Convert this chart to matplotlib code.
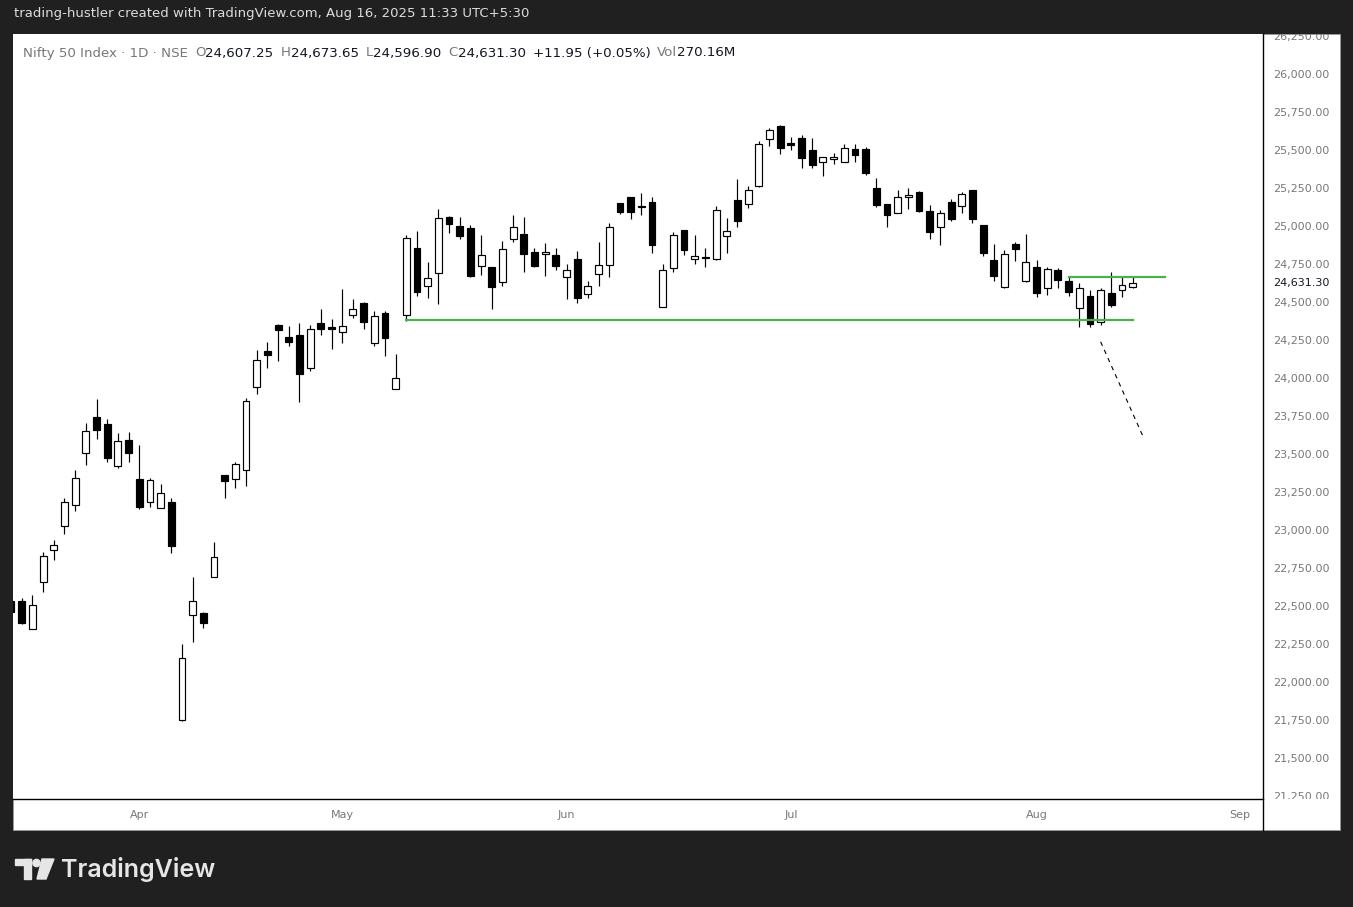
import numpy as np
import pandas as pd
import matplotlib
matplotlib.use('Agg')
import matplotlib.pyplot as plt
from matplotlib.patches import Rectangle, Polygon, Circle

W, H = 1353, 907

# NSE trading calendar (holidays skipped)
holidays = ['2025-03-14', '2025-03-31', '2025-04-10', '2025-04-14', '2025-04-18',
            '2025-05-01', '2025-08-15', '2025-08-27']
days = pd.bdate_range('2025-03-12', '2025-09-05')
days = days[~days.isin(pd.to_datetime(holidays))]

# Nifty 50 daily OHLC, 12 Mar .. 14 Aug 2025
opens = [22539, 22539, 22353, 22663, 22873, 23035, 23169, 23511, 23750, 23704, 23430, 23597,
         23342, 23189, 23149, 23189, 21754, 22445, 22458, 22695, 23366, 23340, 23399, 23945,
         24184, 24355, 24276, 24289, 24070, 24368, 24342, 24307, 24419, 24498, 24235, 24432,
         23932, 24419, 24860, 24610, 24695, 25064, 25004, 24991, 24741, 24735, 24636, 24919,
         24954, 24833, 24820, 24814, 24669, 24788, 24557, 24689, 24748, 25156, 25195, 25136,
         25162, 24472, 24728, 24978, 24788, 24802, 24788, 24939, 25175, 25149, 25268, 25577,
         25662, 25551, 25583, 25504, 25426, 25445, 25426, 25512, 25511, 25255, 25151, 25090,
         25195, 25228, 25103, 24998, 25162, 25136, 25241, 25011, 24781, 24607, 24886, 24643,
         24735, 24597, 24715, 24643, 24465, 24544, 24373, 24564, 24584, 24607.25]
highs = [22577, 22557, 22579, 22862, 22941, 23217, 23399, 23710, 23868, 23737, 23645, 23651,
         23566, 23347, 23309, 23217, 22256, 22697, 22465, 22927, 23366, 23454, 23873, 24191,
         24243, 24362, 24349, 24368, 24355, 24460, 24395, 24592, 24524, 24505, 24445, 24445,
         24164, 24947, 24974, 24769, 25118, 25072, 25066, 25012, 24947, 24738, 24908, 25079,
         25066, 24860, 24893, 24860, 24755, 24840, 24643, 24899, 25024, 25160, 25199, 25222,
         25195, 24755, 24965, 24982, 24946, 24860, 25136, 25057, 25314, 25267, 25564, 25649,
         25671, 25590, 25603, 25583, 25462, 25485, 25544, 25544, 25525, 25322, 25151, 25243,
         25256, 25235, 25143, 25110, 25182, 25228, 25243, 25011, 24886, 24847, 24899, 24952,
         24781, 24735, 24728, 24669, 24630, 24584, 24597, 24702, 24669, 24673.65]
lows = [22380, 22386, 22353, 22601, 22809, 22978, 23133, 23436, 23607, 23456, 23416, 23456,
        23143, 23160, 23149, 22857, 21748, 22272, 22360, 22695, 23215, 23281, 23298, 23903,
        24074, 24120, 24219, 23851, 24054, 24291, 24199, 24239, 24403, 24331, 24219, 24153,
        23932, 24384, 24548, 24535, 24495, 24958, 24919, 24673, 24686, 24463, 24614, 24903,
        24706, 24739, 24679, 24719, 24527, 24502, 24535, 24614, 24673, 25084, 25054, 25081,
        24831, 24472, 24704, 24818, 24755, 24735, 24784, 24827, 25002, 25127, 25261, 25531,
        25478, 25504, 25386, 25386, 25333, 25412, 25426, 25426, 25340, 25133, 25002, 25090,
        25120, 25097, 24923, 24883, 25037, 25090, 25024, 24811, 24647, 24600, 24774, 24638,
        24537, 24554, 24597, 24544, 24344, 24340, 24353, 24472, 24537, 24596.90]
closes = [22469, 22397, 22511, 22835, 22906, 23189, 23346, 23656, 23666, 23482, 23590, 23515,
          23160, 23333, 23248, 22903, 22162, 22537, 22397, 22827, 23327, 23439, 23853, 24123,
          24160, 24324, 24245, 24035, 24327, 24331, 24331, 24347, 24458, 24377, 24413, 24272,
          24004, 24926, 24574, 24663, 25057, 25018, 24943, 24679, 24814, 24607, 24853, 24998,
          24825, 24745, 24833, 24745, 24715, 24535, 24614, 24748, 24998, 25101, 25101, 25130,
          24884, 24715, 24946, 24851, 24807, 24794, 25110, 24972, 25041, 25241, 25544, 25636,
          25518, 25538, 25452, 25406, 25458, 25458, 25518, 25472, 25355, 25147, 25081, 25195,
          25208, 25103, 24965, 25090, 25054, 25215, 25054, 24831, 24679, 24820, 24853, 24768,
          24564, 24722, 24649, 24570, 24597, 24360, 24584, 24485, 24616, 24631.30]

# drawings on the chart: (bar index, price)
support_x, support_y = [37, 105], [24390, 24390]
resist_x, resist_y = [99, 108], [24671, 24671]
dash_x, dash_y = [102, 105.95], [24245, 23625]

price_ticks = np.arange(21250, 26251, 250)
months = ['Apr', 'May', 'Jun', 'Jul', 'Aug', 'Sep']
month_num = [4, 5, 6, 7, 8, 9]

header = 'trading-hustler created with TradingView.com, Aug 16, 2025 11:33 UTC+5:30'
legend_parts = [('Nifty 50 Index · 1D · NSE', 'g'), ('O', 'g'), ('24,607.25', 'k'),
                ('H', 'g'), ('24,673.65', 'k'), ('L', 'g'), ('24,596.90', 'k'),
                ('C', 'g'), ('24,631.30', 'k'), ('+11.95 (+0.05%)', 'k'),
                ('Vol', 'g'), ('270.16M', 'k')]

BG = '#202020'
GRAY = '#787878'
DARK = '#131722'
FONT = ['DejaVu Sans']


def px(x0, y0, x1, y1):
    return [x0 / W, 1 - y1 / H, (x1 - x0) / W, (y1 - y0) / H]


fig = plt.figure(figsize=(W / 100, H / 100), dpi=100, facecolor=BG)
fig.patches.append(Rectangle((13 / W, 1 - 830 / H), 1327 / W, 796 / H,
                             transform=fig.transFigure, facecolor='white',
                             edgecolor='#9a9a9a', lw=0.6, zorder=-5))

x = np.arange(len(opens))
o = np.array(opens, float)
hi = np.array(highs, float)
lo = np.array(lows, float)
c = np.array(closes, float)
up = c >= o

ax = fig.add_axes(px(13, 34, 1263, 799))
ax.set_facecolor('white')
for s in ax.spines.values():
    s.set_visible(False)
ax.set_xticks([])
ax.set_yticks([])
ylim = (21237, 26270)
ax.set_xlim(0.18, 117.2)
ax.set_ylim(*ylim)

lw = 0.85
ax.vlines(x, lo, hi, color='black', lw=lw, zorder=2)
body = np.maximum(np.abs(c - o), 4)
ax.bar(x, body, bottom=np.minimum(o, c), width=0.64,
       color=np.where(up, 'white', 'black'), edgecolor='black', linewidth=lw, zorder=3)

ax.plot(support_x, support_y, color='#4caf50', lw=1.6, zorder=4)
ax.plot(resist_x, resist_y, color='#4caf50', lw=1.6, zorder=4)
ax.plot(dash_x, dash_y, color='black', lw=0.8, ls=(0, (4, 4)), zorder=4)

# price scale
pax = fig.add_axes(px(1263, 34, 1340, 799))
pax.set_facecolor('white')
pax.set_xlim(0, 1)
pax.set_ylim(*ylim)
pax.axis('off')
for p in price_ticks:
    pax.text(0.13, p, f'{p:,.2f}', color=GRAY, fontsize=8, va='center', ha='left',
             family=FONT, clip_on=True)
pax.text(0.13, closes[-1], f'{closes[-1]:,.2f}', color=DARK, fontsize=8, va='center',
         ha='left', family=FONT, clip_on=True,
         bbox=dict(facecolor='white', edgecolor='none', pad=1.5))

# time scale
tax = fig.add_axes(px(13, 799, 1263, 830))
tax.set_xlim(ax.get_xlim())
tax.set_ylim(0, 1)
tax.axis('off')
for name, m in zip(months, month_num):
    i = int(np.argmax(days.month == m))
    tax.text(i, 0.5, name, color=GRAY, fontsize=8, ha='center', va='center', family=FONT)

# overlay in pixel coordinates
ov = fig.add_axes([0, 0, 1, 1], facecolor='none')
ov.set_xlim(0, W)
ov.set_ylim(H, 0)
ov.axis('off')
ov.plot([13, 1263], [799, 799], color='black', lw=1.0)
ov.plot([1263, 1263], [34, 830], color='black', lw=1.0)

ov.text(14, 14, header, color='#dcdcdc', fontsize=9.5, va='center', ha='left', family=FONT)

fig.canvas.draw()
r = fig.canvas.get_renderer()
xpos = 23
prev = None
for txt, col in legend_parts:
    if prev is not None:
        xpos += 0 if prev == 'g' and col == 'k' else 7
    t = ov.text(xpos, 53, txt, color=GRAY if col == 'g' else DARK, fontsize=9.6,
                va='center', ha='left', family=FONT)
    xpos = t.get_window_extent(r).x1
    prev = col

# TradingView logo
lc = '#e6e6e6'
ov.add_patch(Rectangle((15, 859), 16, 6, color=lc))
ov.add_patch(Rectangle((24, 859), 7, 20, color=lc))
ov.add_patch(Circle((36.5, 863), 3.6, color=lc))
ov.add_patch(Polygon([(42, 859), (54, 859), (46, 879), (37, 879)], closed=True, color=lc))
ov.text(61, 869, 'TradingView', color=lc, fontsize=18, fontweight='semibold',
        family=['Inter', 'DejaVu Sans'], va='center', ha='left')

fig.savefig('out.png', dpi=100, facecolor=BG)
